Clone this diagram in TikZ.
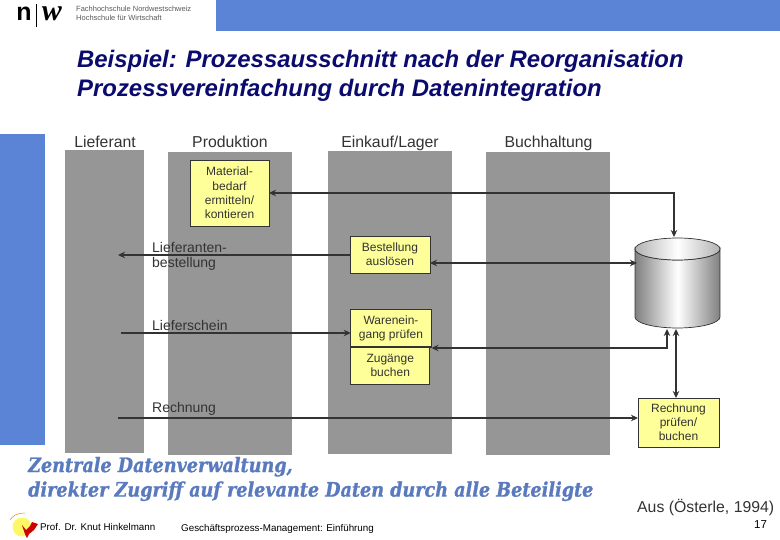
\documentclass[tikz,border=0pt]{standalone}
\usepackage{fontspec}
\setmainfont{Liberation Sans}
\newfontfamily\notefont[BoldItalicFeatures={FakeBold=1.2}]{DejaVu Serif}
\newfontfamily\logofont{Liberation Serif}
\usepackage{xcolor}
\definecolor{barBlue}{HTML}{5B84D6}
\definecolor{laneGray}{HTML}{969696}
\definecolor{boxYellow}{HTML}{FFFF99}
\definecolor{darkText}{HTML}{333333}
\definecolor{titleNavy}{HTML}{0B0B6E}
\definecolor{noteBlue}{HTML}{5A7ABF}
\usetikzlibrary{
    arrows.meta,
    positioning,
    calc
}
\tikzset{
    % Grey swimlanes
    lane/.style={
        fill=laneGray,
        minimum width=124pt,
        minimum height=303pt,
        inner sep=0pt,
        outer sep=0pt,
    },
    % Lane headings
    lane head/.style={
        font=\fontsize{15.8}{18}\selectfont,
        text=darkText,
        anchor=base,
        inner sep=0pt,
    },
    % Yellow process boxes
    process/.style={
        draw=darkText,
        line width=0.8pt,
        fill=boxYellow,
        font=\fontsize{12}{14.2}\selectfont,
        text=darkText,
        align=center,
        inner sep=0pt,
        outer sep=0pt,
    },
    % Labels on the connectors
    flow label/.style={
        font=\fontsize{14}{15}\selectfont,
        text=darkText,
        align=left,
        anchor=west,
        inner sep=0pt,
    },
    % Connectors
    flow/.style={
        -{Stealth[length=7pt, width=6.5pt]},
        line width=1.6pt,
        draw=darkText,
    },
    flow both/.style={
        flow,
        {Stealth[length=7pt, width=6.5pt]}-{Stealth[length=7pt, width=6.5pt]},
    },
    % Title lines
    title/.style={
        font=\fontsize{23.9}{29}\selectfont\bfseries\itshape,
        text=titleNavy,
        align=left,
        anchor=west,
        inner sep=0pt,
    },
    footer/.style={
        font=\fontsize{9.8}{11}\selectfont,
        text=black,
        anchor=west,
        inner sep=0pt,
    },
}
\begin{document}
\begin{tikzpicture}[x=1pt, y=-1pt]
    \useasboundingbox (0,0) rectangle (780,540);
    % Bars
    \fill [barBlue] (216,0) rectangle (780,31);
    \fill [barBlue] (0,134) rectangle (45,445);

    % Logo
    \node (logon) [inner sep=0pt, font=\fontsize{25}{25}\selectfont\bfseries] at (24,14) {n};
    \draw [line width=0.7pt] (36,4) -- (36,27);
    \node (logow) [inner sep=0pt, font=\fontsize{30}{30}\selectfont\logofont\itshape\bfseries] at (52,14) {w};
    \node (school) [inner sep=0pt, anchor=west, align=left, text=black!65, font=\fontsize{7.5}{9}\selectfont] at (76,13.5) {Fachhochschule Nordwestschweiz\\Hochschule für Wirtschaft};

    % Title
    \node (title) [title] at (77,75.5) {Beispiel: Prozessausschnitt nach der Reorganisation\\Prozessvereinfachung durch Datenintegration};

    % Lanes
    \node (lief) [lane, minimum width=79pt, anchor=north west] at (65,150) {};
    \node (prod) [lane, anchor=north west] at (168,152) {};
    \node (eink) [lane, anchor=north west] at (328,151) {};
    \node (buch) [lane, anchor=north west] at (486,152) {};

    \node (lieftxt) [lane head] at (105,148) {Lieferant};
    \node (prodtxt) [lane head] at (230,148) {Produktion};
    \node (einktxt) [lane head] at (390,148) {Einkauf/Lager};
    \node (buchtxt) [lane head] at (548.5,148) {Buchhaltung};

    % Boxes
    \node (mat) [process, minimum width=79pt, minimum height=66pt] at (229.5,193) {Material-\\bedarf\\ermitteln/\\kontieren};
    \node (best) [process, minimum width=80pt, minimum height=37pt] at (390,254.5) {Bestellung\\auslösen};
    \node (ware) [process, minimum width=80.5pt, minimum height=38pt] at (391,328) {Warenein-\\gang prüfen};
    \node (zug) [process, minimum width=79pt, minimum height=37pt, below=0pt of ware.south west, anchor=north west] {Zugänge\\buchen};
    \node (rech) [process, minimum width=81pt, minimum height=49pt] at (678.5,422.5) {Rechnung\\prüfen/\\buchen};

    % Database
    \node (db) [minimum width=85pt, minimum height=90pt, inner sep=0pt, outer sep=0pt] at (677.5,283) {};
    \draw [darkText, line width=0.7pt, left color=black!50, right color=black!50, middle color=white]
        (635,249) -- (635,317) arc[start angle=180, end angle=360, x radius=42.5, y radius=-11] -- (720,249)
        arc[start angle=0, end angle=-180, x radius=42.5, y radius=-11] -- cycle;
    \draw [darkText, line width=0.7pt, left color=black!30, right color=black!30, middle color=white]
        (677.5,249) ellipse[x radius=42.5, y radius=11];

    % Connector ends
    \coordinate (dbtop) at (674,237);
    \coordinate (dbbest) at (637,263);
    \coordinate (dbzug) at (667,329);
    \coordinate (dbrech) at (676,329);
    \coordinate (liefout) at (118,255);
    \coordinate (liefin) at (121,333);
    \coordinate (liefre) at (118,418);
    \coordinate (zugline) at (431.5,348);

    % Connectors
    \draw [flow both] (mat.east) -- (mat.east -| dbtop) -- (dbtop);
    \draw [flow both] (best.east |- dbbest) -- (dbbest);
    \draw [flow] (best.west |- liefout) -- (liefout);
    \draw [flow] (liefin) -- (ware.west |- liefin);
    \draw [line width=1.4pt, darkText] (ware.south west) -- (ware.south east);
    \draw [flow both] (zugline) -- (zugline -| dbzug) -- (dbzug);
    \draw [flow] (liefre) -- (rech.west |- liefre);
    \draw [flow both] (dbrech) -- (dbrech |- rech.north);

    % Connector labels
    \node (lbest) [flow label] at (152,256) {Lieferanten-\\bestellung};
    \node (lschein) [flow label] at (152,325) {Lieferschein};
    \node (lrech) [flow label] at (152,409) {Rechnung};

    % Note
    \node (note) [anchor=west, align=left, inner sep=0pt, text=noteBlue, xscale=0.88, transform shape, font=\fontsize{20}{24.5}\selectfont\notefont\bfseries\itshape] at (28,479) {Zentrale Datenverwaltung,\\direkter Zugriff auf relevante Daten durch alle Beteiligte};
    \node (source) [lane head, anchor=base west] at (637,512) {Aus (Österle, 1994)};

    % Footer
    \fill [yellow!60!white] (22,527) circle[radius=9.5];
    \draw [orange, line width=0.5pt] (10,520) .. controls (13,515) and (18,513) .. (25,513);
    \fill [red!80!black] (22,525) -- (26,530) -- (30,526) -- (32,522) -- (38,524) -- (34,530) -- (29,534) -- (27,538) -- (25,534) -- cycle;
    \node (prof) [footer] at (40,527) {Prof. Dr. Knut Hinkelmann};
    \node (course) [footer] at (181,529) {Geschäftsprozess-Management: Einführung};
    \node (page) [footer, font=\fontsize{11.5}{13}\selectfont] at (754,525) {17};
\end{tikzpicture}
\end{document}
